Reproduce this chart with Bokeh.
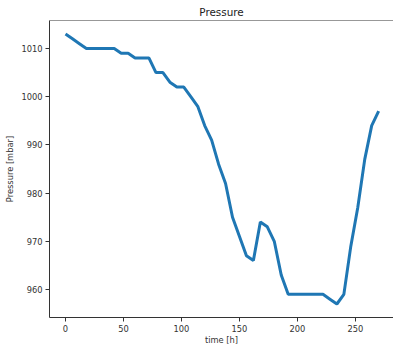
from bokeh.plotting import figure
from bokeh.models import Range1d, Span, FixedTicker, Label
from bokeh.embed import file_html
from bokeh.resources import INLINE

time_h = list(range(0, 271, 6))
pressure = [1013, 1012, 1011, 1010, 1010, 1010, 1010, 1010, 1009, 1009,
            1008, 1008, 1008, 1005, 1005, 1003, 1002, 1002, 1000, 998,
            994, 991, 986, 982, 975, 971, 967, 966, 974, 973,
            970, 963, 959, 959, 959, 959, 959, 959, 958, 957,
            959, 969, 977, 987, 994, 997]
x_ticks = [0, 50, 100, 150, 200, 250]
y_ticks = [960, 970, 980, 990, 1000, 1010]

FONT = "DejaVu Sans"
p = figure(width=393, height=344, output_backend="svg", toolbar_location=None,
           x_range=Range1d(-13.8, 282.8), y_range=Range1d(954.2, 1015.8),
           min_border_left=49, min_border_right=0, min_border_top=20, min_border_bottom=27,
           title="Pressure")
p.line(time_h, pressure, line_color="#1f77b4", line_width=3)

p.title.align = "center"
p.title.text_font = FONT
p.title.text_font_size = "10.4px"
p.title.text_font_style = "normal"
p.title.text_color = "#222222"
p.title.standoff = 5
p.title.offset = 0

p.grid.visible = False
p.outline_line_color = None
p.add_layout(Span(location=1015.8, dimension="width", line_color="#333333", line_width=1))

for ax in (p.xaxis[0], p.yaxis[0]):
    ax.axis_line_color = "#333333"
    ax.axis_line_width = 1
    ax.major_tick_line_color = "#333333"
    ax.major_tick_out = 4
    ax.major_tick_in = 0
    ax.minor_tick_line_color = None
    ax.major_label_text_font = FONT
    ax.major_label_text_font_size = "8.3px"
    ax.major_label_text_color = "#333333"
    ax.axis_label_text_font = FONT
    ax.axis_label_text_font_size = "8.3px"
    ax.axis_label_text_font_style = "normal"
    ax.axis_label_text_color = "#333333"

p.yaxis.major_label_standoff = 3
p.yaxis.axis_label_standoff = 3
p.xaxis.major_label_standoff = 3

p.xaxis.ticker = FixedTicker(ticks=x_ticks)
p.yaxis.ticker = FixedTicker(ticks=y_ticks)
p.yaxis.axis_label = "Pressure [mbar]"

p.add_layout(Label(x=172, y=5, x_units="screen", y_units="screen", text="time [h]",
                   text_align="center", text_baseline="middle", text_font=FONT,
                   text_font_size="8.3px", text_color="#333333"), "below")

open("out.html", "w").write(file_html(p, INLINE))
